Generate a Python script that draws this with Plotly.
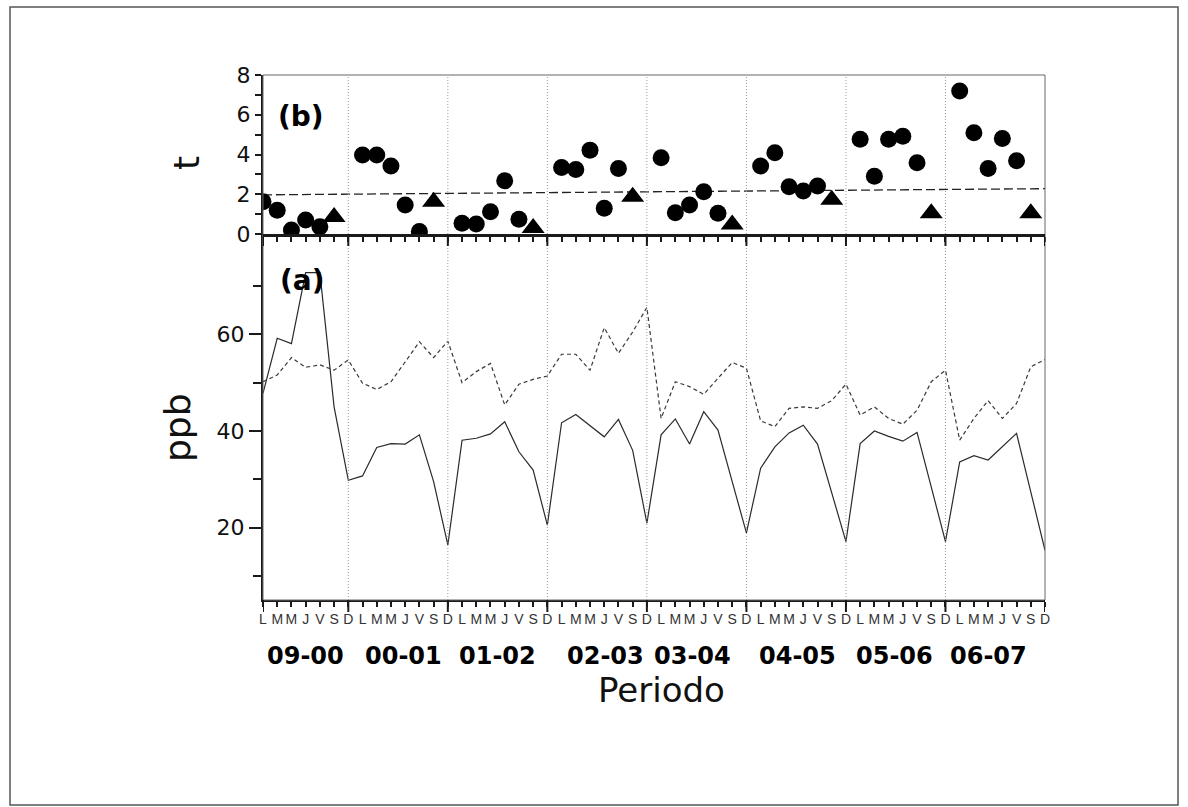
import plotly.graph_objects as go

# ---------------- data ----------------
days = ["L", "M", "M", "J", "V", "S", "D"]
periods = ["09-00", "00-01", "01-02", "02-03", "03-04", "04-05", "05-06", "06-07"]

# panel (a): ppb, 7 points per period (L..D)
solid_ppb = [
    47.8, 59.2, 58.1, 72.8, 72.8, 45.0, 29.8,
    30.7, 36.6, 37.4, 37.3, 39.2, 29.5, 16.4,
    38.1, 38.5, 39.4, 41.9, 35.7, 31.9, 20.5,
    41.7, 43.4, 41.0, 38.8, 42.4, 36.0, 20.9,
    39.2, 42.5, 37.3, 44.0, 40.2, 29.5, 18.9,
    32.3, 36.7, 39.6, 41.2, 37.3, 27.3, 17.1,
    37.4, 40.0, 38.9, 37.9, 39.7, 28.4, 17.1,
    33.6, 34.9, 34.0, 36.7, 39.5, 27.4, 15.3,
]
dashed_ppb = [
    50.2, 51.6, 55.2, 53.2, 53.7, 52.6, 54.7,
    49.9, 48.6, 50.2, 54.3, 58.5, 55.2, 58.6,
    50.0, 52.3, 54.0, 45.4, 49.7, 50.7, 51.4,
    55.9, 55.9, 52.6, 61.4, 56.1, 60.5, 65.6,
    42.6, 50.2, 49.2, 47.6, 50.9, 54.2, 53.0,
    42.1, 40.9, 44.7, 45.0, 44.7, 46.3, 49.7,
    43.3, 45.0, 42.6, 41.4, 44.3, 50.2, 52.6,
    38.1, 42.6, 46.3, 42.6, 45.7, 53.3, 54.8,
]

# panel (b): t statistic, circles on L..V, triangle on S
t_circles = [
    [1.62, 1.20, 0.20, 0.70, 0.37],
    [3.97, 3.97, 3.42, 1.46, 0.12],
    [0.54, 0.50, 1.12, 2.68, 0.74],
    [3.35, 3.25, 4.22, 1.29, 3.30],
    [3.84, 1.07, 1.46, 2.13, 1.04],
    [3.42, 4.09, 2.38, 2.16, 2.41],
    [4.77, 2.91, 4.77, 4.92, 3.58],
    [7.20, 5.09, 3.30, 4.81, 3.68],
]
t_triangles = [0.85, 1.62, 0.30, 1.88, 0.48, 1.72, 1.05, 1.05]
t_critical = [1.97, 2.28]
period_label_pos = [3.0, 9.9, 16.5, 24.1, 30.2, 37.6, 44.4, 51.0]

# ---------------- geometry ----------------
W, H = 1188, 807
PL, PR, PT, PB = 263, 1045, 75, 600
pw, ph = PR - PL, PB - PT
split = (PB - 234) / ph


def px(x):
    return (x - PL) / pw


def py(y):
    return (PB - y) / ph


n = len(solid_ppb)
xs = list(range(n))
ndays = len(days)
boundaries = [ndays * p + ndays - 1 for p in range(len(periods) - 1)]
long_ticks = [0] + boundaries + [n - 1]

cx = [ndays * p + k for p in range(len(periods)) for k in range(len(t_circles[p]))]
cy = [v for row in t_circles for v in row]
tx = [ndays * p + 5 for p in range(len(periods))]

ink = "#1a1a1a"
fig = go.Figure()
fig.add_trace(go.Scatter(x=xs, y=solid_ppb, mode="lines",
                         line=dict(color="#2a2a2a", width=1.2), xaxis="x", yaxis="y"))
fig.add_trace(go.Scatter(x=xs, y=dashed_ppb, mode="lines",
                         line=dict(color="#3a3a3a", width=1.2, dash="4px,3px"), xaxis="x", yaxis="y"))
fig.add_trace(go.Scatter(x=[0, n - 1], y=t_critical, mode="lines",
                         line=dict(color="#222222", width=1.3, dash="9px,4px"), xaxis="x2", yaxis="y2"))
fig.add_trace(go.Scatter(x=cx, y=cy, mode="markers",
                         marker=dict(symbol="circle", size=17, color="black"), xaxis="x2", yaxis="y2"))
fig.add_trace(go.Scatter(x=tx, y=t_triangles, mode="markers",
                         marker=dict(symbol="triangle-up", size=20, color="black"), xaxis="x2", yaxis="y2"))

shapes = []
# page frame
shapes.append(dict(type="rect", xref="paper", yref="paper",
                   x0=px(10), x1=px(1178), y0=py(805), y1=py(7),
                   line=dict(color="#555555", width=1.5)))
# plot frame
shapes.append(dict(type="rect", xref="paper", yref="paper",
                   x0=0, x1=1, y0=0, y1=1, line=dict(color="#666666", width=1)))
# dotted period separators
for b in boundaries:
    shapes.append(dict(type="line", xref="x", yref="paper", x0=b, x1=b, y0=0, y1=1,
                       line=dict(color="#9a9a9a", width=1, dash="1px,2px")))
# long ticks at period boundaries
for b in long_ticks:
    shapes.append(dict(type="line", xref="x", yref="paper", x0=b, x1=b,
                       y0=0, y1=-12 / ph, line=dict(color=ink, width=2)))
    shapes.append(dict(type="line", xref="x", yref="paper", x0=b, x1=b,
                       y0=split, y1=split - 12 / ph, line=dict(color=ink, width=2)))

annotations = []
for lab, pos in zip(periods, period_label_pos):
    annotations.append(dict(x=pos, y=py(656), xref="x", yref="paper", text="<b>%s</b>" % lab,
                            showarrow=False, font=dict(family="DejaVu Sans", size=24, color="black"),
                            xanchor="center", yanchor="middle"))
annotations.append(dict(x=px(661), y=py(690), xref="paper", yref="paper", text="Periodo",
                        showarrow=False, font=dict(family="DejaVu Sans", size=34, color="#111111"),
                        xanchor="center", yanchor="middle"))
annotations.append(dict(x=px(186), y=py(163), xref="paper", yref="paper", text="t", textangle=-90,
                        showarrow=False, font=dict(family="DejaVu Sans", size=36, color="#111111"),
                        xanchor="center", yanchor="middle"))
annotations.append(dict(x=px(178), y=py(428), xref="paper", yref="paper", text="ppb", textangle=-90,
                        showarrow=False, font=dict(family="DejaVu Sans", size=36, color="#111111"),
                        xanchor="center", yanchor="middle"))
annotations.append(dict(x=px(301), y=py(116), xref="paper", yref="paper", text="<b>(b)</b>",
                        showarrow=False, font=dict(family="DejaVu Sans", size=28, color="black"),
                        xanchor="center", yanchor="middle"))
annotations.append(dict(x=px(302), y=py(280), xref="paper", yref="paper", text="<b>(a)</b>",
                        showarrow=False, font=dict(family="DejaVu Sans", size=28, color="black"),
                        xanchor="center", yanchor="middle"))

tickfont = dict(family="DejaVu Sans", size=22, color="#111111")
fig.update_layout(
    width=W, height=H,
    margin=dict(l=PL, r=W - PR, t=PT, b=H - PB, pad=0),
    paper_bgcolor="white", plot_bgcolor="white",
    showlegend=False,
    xaxis=dict(domain=[0, 1], anchor="y", range=[0, n - 1],
               tickmode="array", tickvals=xs, ticktext=days * len(periods),
               ticks="outside", ticklen=5, tickwidth=1.5, tickcolor=ink,
               tickfont=dict(family="Liberation Sans", size=14, color="#333333"),
               showline=True, linewidth=2, linecolor=ink, showgrid=False, zeroline=False),
    yaxis=dict(domain=[0, split], anchor="x", range=[5, 80.8],
               tickmode="array", tickvals=[20, 40, 60],
               ticks="outside", ticklen=12, tickwidth=2, tickcolor=ink, tickfont=tickfont,
               minor=dict(tickmode="array", tickvals=[10, 30, 50, 70], ticks="outside",
                          ticklen=8, tickwidth=2, tickcolor=ink),
               showline=True, linewidth=2, linecolor=ink, showgrid=False, zeroline=False),
    xaxis2=dict(domain=[0, 1], anchor="y2", matches="x", range=[0, n - 1],
                tickmode="array", tickvals=xs, showticklabels=False,
                ticks="outside", ticklen=5, tickwidth=1.5, tickcolor=ink,
                showline=True, linewidth=3, linecolor=ink, showgrid=False, zeroline=False),
    yaxis2=dict(domain=[split, 1], anchor="x2", range=[0, 8],
                tickmode="array", tickvals=[0, 2, 4, 6, 8],
                ticks="outside", ticklen=6, tickwidth=2, tickcolor=ink, tickfont=tickfont,
                minor=dict(tickmode="array", tickvals=[1, 3, 5, 7], ticks="outside",
                           ticklen=6, tickwidth=2, tickcolor=ink),
                showline=True, linewidth=2, linecolor=ink, showgrid=False, zeroline=False),
    shapes=shapes,
    annotations=annotations,
)

fig.write_html("out.html")
